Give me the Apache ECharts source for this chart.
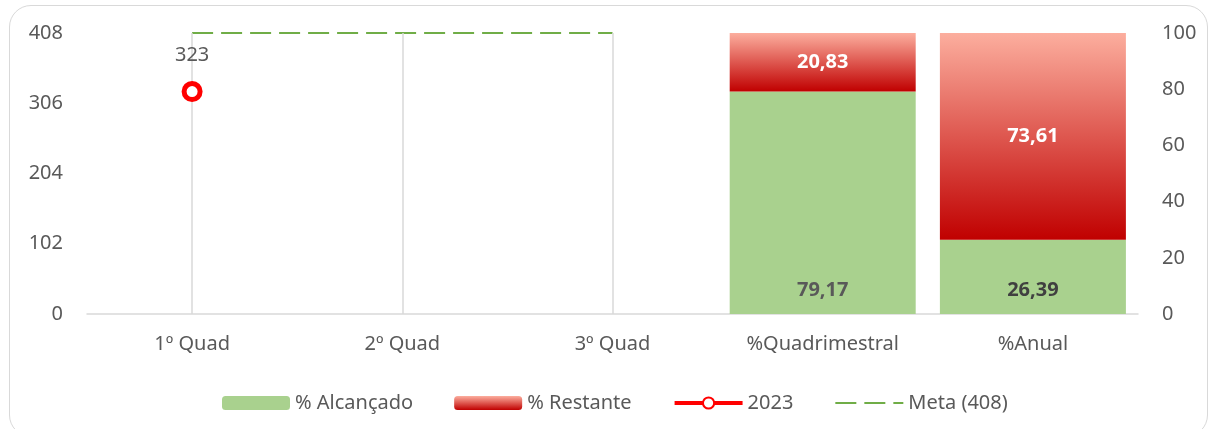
<!DOCTYPE html>
<html>
<head>
<meta charset="utf-8">
<script src="https://cdn.jsdelivr.net/npm/echarts@6/dist/echarts.min.js"></script>
<style>
    html, body { margin: 0; padding: 0; background: #fff; }
    .chart-frame {
        position: absolute;
        left: 9px;
        top: 5px;
        width: 1199px;
        height: 432px;
        border: 1.5px solid #d9d9d9;
        border-radius: 22px;
        box-sizing: border-box;
    }
    #chart { position: absolute; left: 0; top: 0; width: 1208px; height: 429px; }
</style>
</head>
<body>
<div class="chart-frame"></div>
<div id="chart"></div>
<script>
// categorias e valores
const categorias = ['1º Quad', '2º Quad', '3º Quad', '%Quadrimestral', '%Anual']
const ano2023 = [323, null, null, null, null]
const meta = [408, 408, 408, null, null]
const alcancado = [null, null, null, 79.17, 26.39]
const restante = [null, null, null, 20.83, 73.61]
const dropLines = ['1º Quad', '2º Quad', '3º Quad']

const fonte = '"Noto Sans", sans-serif'
const cinza = '#595959'
const fmt = (p) => String(p.value).replace('.', ',')

const chart = echarts.init(document.getElementById('chart'))

const option = {
    animation: false,
    textStyle: { fontFamily: fonte },
    grid: { left: 87, right: 70, top: 33, bottom: 115 },
    legend: {
        top: 388,
        left: 217,
        itemWidth: 68,
        itemHeight: 14,
        itemGap: 41,
        textStyle: { fontSize: 20, color: cinza, fontFamily: fonte },
        data: [
            '% Alcançado',
            '% Restante',
            { name: '2023', lineStyle: { width: 4 } },
            { name: 'Meta (408)', itemStyle: { opacity: 0 } }
        ]
    },
    xAxis: {
        type: 'category',
        data: categorias,
        axisLine: { lineStyle: { color: '#d9d9d9', width: 1.5 } },
        axisTick: { show: false },
        axisLabel: { fontSize: 20, color: cinza, margin: 20 }
    },
    yAxis: [
        {
            type: 'value',
            min: 0,
            max: 408,
            interval: 102,
            splitLine: { show: false },
            axisLabel: { fontSize: 20, color: cinza, margin: 24 }
        },
        {
            type: 'value',
            min: 0,
            max: 100,
            interval: 20,
            position: 'right',
            splitLine: { show: false },
            axisLabel: { fontSize: 20, color: cinza, margin: 24 }
        }
    ],
    series: [
        {
            name: '% Alcançado',
            type: 'bar',
            yAxisIndex: 1,
            stack: 'pct',
            barWidth: 186,
            itemStyle: { color: '#A9D18E' },
            label: {
                show: true,
                position: 'insideBottom',
                distance: 14,
                fontSize: 20,
                fontWeight: 'bold',
                formatter: fmt,
                color: cinza
            },
            data: [null, null, null,
                { value: alcancado[3], label: { color: '#595959' } },
                { value: alcancado[4], label: { color: '#404040' } }]
        },
        {
            name: '% Restante',
            type: 'bar',
            yAxisIndex: 1,
            stack: 'pct',
            barWidth: 186,
            itemStyle: {
                color: new echarts.graphic.LinearGradient(0, 0, 0, 1, [
                    { offset: 0, color: '#FCAE9E' },
                    { offset: 1, color: '#C00000' }
                ])
            },
            label: {
                show: true,
                position: 'inside',
                fontSize: 20,
                fontWeight: 'bold',
                color: '#fff',
                formatter: fmt
            },
            data: restante
        },
        {
            name: 'Meta (408)',
            type: 'line',
            yAxisIndex: 0,
            symbol: 'none',
            lineStyle: { color: '#70AD47', width: 2, type: [21, 8] },
            itemStyle: { color: '#70AD47' },
            markLine: {
                silent: true,
                symbol: 'none',
                label: { show: false },
                lineStyle: { color: '#d9d9d9', width: 1.5, type: 'solid' },
                data: dropLines.map((c) => ({ xAxis: c }))
            },
            data: meta
        },
        {
            name: '2023',
            type: 'line',
            yAxisIndex: 0,
            z: 10,
            symbol: 'circle',
            symbolSize: 16,
            lineStyle: { color: '#FF0000', width: 4 },
            itemStyle: { color: '#fff', borderColor: '#FF0000', borderWidth: 5 },
            label: {
                show: true,
                position: 'top',
                distance: 16,
                fontSize: 20,
                color: cinza
            },
            data: ano2023
        }
    ]
}

chart.setOption(option)
</script>
</body>
</html>
